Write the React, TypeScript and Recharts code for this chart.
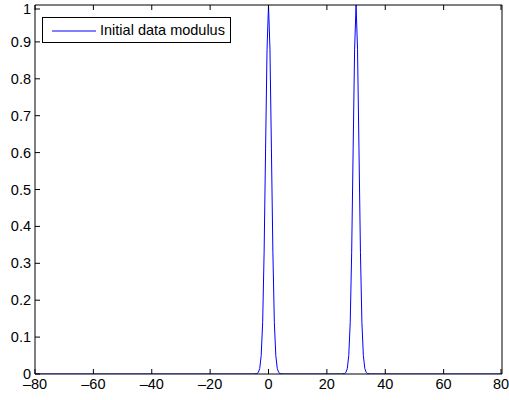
import { LineChart, Line, XAxis, YAxis } from "recharts";

const xValues = [
  -80, -20, -8, -5, -4, -3.5, -3, -2.5, -2, -1.5, -1, -0.5, 0, 0.5, 1, 1.5, 2, 2.5, 3, 3.5, 4, 5, 8,
  15, 22, 25, 26, 26.5, 27, 27.5, 28, 28.5, 29, 29.5, 30, 30.5, 31, 31.5, 32, 32.5, 33, 33.5, 34, 35, 38,
  50, 80,
];
const modulus = [
  0, 0, 0, 0, 0.001, 0.004, 0.015, 0.05, 0.14, 0.33, 0.61, 0.88, 1, 0.88, 0.61, 0.33, 0.14, 0.05, 0.015, 0.004, 0.001, 0, 0,
  0, 0, 0, 0.001, 0.004, 0.015, 0.05, 0.14, 0.33, 0.61, 0.88, 1, 0.88, 0.61, 0.33, 0.14, 0.05, 0.015, 0.004, 0.001, 0, 0,
  0, 0,
];
const xTicks = [-80, -60, -40, -20, 0, 20, 40, 60, 80];
const yTicks = [0, 0.1, 0.2, 0.3, 0.4, 0.5, 0.6, 0.7, 0.8, 0.9, 1];
const legendLabel = "Initial data modulus";

const data = xValues.map((x, i) => ({ x, y: modulus[i] }));

const font = "'Liberation Sans', Arial, sans-serif";
const fs = 14.5;
const fmt = (v: number) => (v < 0 ? "\u2013" + Math.abs(v) : String(v));

const BottomTick = (props: any) => {
  const { x, y, payload } = props;
  return (
    <g>
      <line x1={x} y1={y} x2={x} y2={y - 5} stroke="#000" />
      <text x={x} y={y + 15} textAnchor="middle" fontSize={fs} fontFamily={font} fill="#000">
        {fmt(payload.value)}
      </text>
    </g>
  );
};

const TopTick = (props: any) => {
  const { x, y } = props;
  return <line x1={x} y1={y} x2={x} y2={y + 5} stroke="#000" />;
};

const LeftTick = (props: any) => {
  const { x, y, payload } = props;
  return (
    <g>
      <line x1={x} y1={y} x2={x + 5} y2={y} stroke="#000" />
      <text x={x - 4} y={y + 5} textAnchor="end" fontSize={fs} fontFamily={font} fill="#000">
        {String(Math.round(payload.value * 10) / 10)}
      </text>
    </g>
  );
};

const RightTick = (props: any) => {
  const { x, y } = props;
  return <line x1={x} y1={y} x2={x - 5} y2={y} stroke="#000" />;
};

// legend drawn as an overlay, Legend component kept eating plot space
const LegendBox = () => (
  <div
    style={{
      position: "absolute",
      left: 42,
      top: 17,
      width: 187,
      height: 24,
      border: "1px solid #000",
      background: "#fff",
      fontFamily: font,
      fontSize: fs,
    }}
  >
    <svg width={58} height={24} style={{ position: "absolute", left: 0, top: 0 }}>
      <line x1={9} y1={13} x2={53} y2={13} stroke="#0000ff" />
    </svg>
    <span style={{ position: "absolute", left: 57, top: 4, lineHeight: "16px", whiteSpace: "nowrap" }}>
      {legendLabel}
    </span>
  </div>
);

export default function App() {
  return (
    <div style={{ position: "absolute", left: 0, top: 0, width: 509, height: 400, background: "#fff" }}>
      <LineChart width={509} height={400} data={data} margin={{ top: 4, right: 6, bottom: 6, left: 5 }}>
        <XAxis
          dataKey="x"
          type="number"
          domain={[-80, 80]}
          ticks={xTicks}
          height={20}
          tickSize={0}
          tickMargin={0}
          tickLine={false}
          axisLine={{ stroke: "#000" }}
          tick={<BottomTick />}
          allowDataOverflow
        />
        <XAxis
          xAxisId="top"
          orientation="top"
          dataKey="x"
          type="number"
          domain={[-80, 80]}
          ticks={xTicks}
          height={1}
          tickSize={0}
          tickMargin={0}
          tickLine={false}
          axisLine={{ stroke: "#000" }}
          tick={<TopTick />}
        />
        <YAxis
          type="number"
          domain={[0, 1]}
          ticks={yTicks}
          width={30}
          tickSize={0}
          tickMargin={0}
          tickLine={false}
          axisLine={{ stroke: "#000" }}
          tick={<LeftTick />}
          allowDataOverflow
        />
        <YAxis
          yAxisId="right"
          orientation="right"
          type="number"
          domain={[0, 1]}
          ticks={yTicks}
          width={1}
          tickSize={0}
          tickMargin={0}
          tickLine={false}
          axisLine={{ stroke: "#000" }}
          tick={<RightTick />}
        />
        <Line
          type="linear"
          dataKey="y"
          stroke="#0000ff"
          strokeWidth={1}
          dot={false}
          isAnimationActive={false}
        />
      </LineChart>
      <LegendBox />
    </div>
  );
}
